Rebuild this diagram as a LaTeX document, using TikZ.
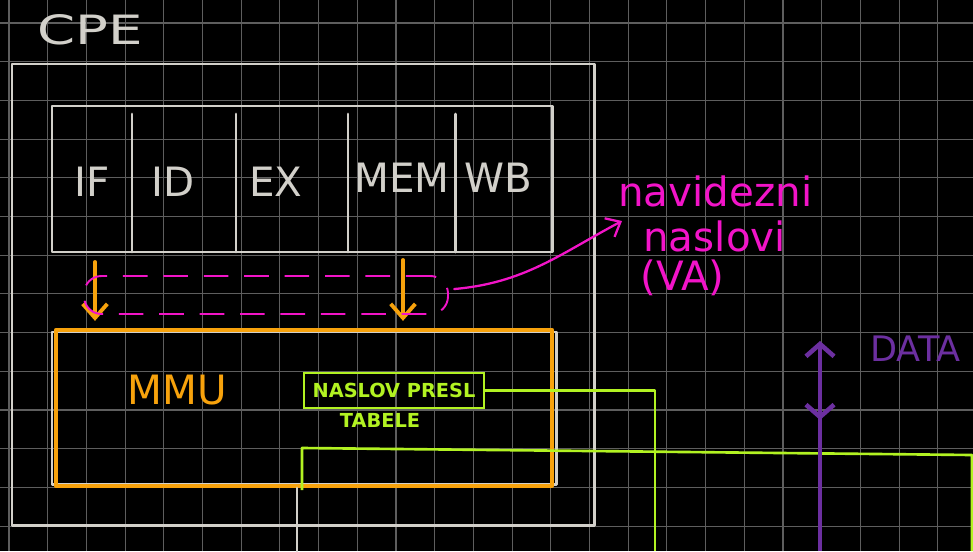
\documentclass[tikz,border=0pt]{standalone}
\usepackage{fontspec}
\setmainfont{DejaVu Sans}
\usetikzlibrary{arrows.meta, positioning, fit}
\definecolor{chalkgray}{HTML}{D2D0CA}
\definecolor{gridgray}{HTML}{5E5E5E}
\definecolor{mmuorange}{HTML}{F7A20C}
\definecolor{vamagenta}{HTML}{F214C8}
\definecolor{tablelime}{HTML}{B2F222}
\definecolor{datapurple}{HTML}{6C2FA0}

\begin{document}
\begin{tikzpicture}[
		x=0.02cm, y=-0.02cm,
		gridline/.style={draw=gridgray, line width=0.6pt},
		chalkbox/.style={draw=chalkgray, line width=1.7pt, inner sep=0pt, line join=round},
		chalk/.style={draw=chalkgray, line width=1.7pt, line cap=round},
		hand/.style={font=\fontsize{23}{27}\selectfont, inner sep=0pt},
		mmubox/.style={draw=mmuorange, line width=2.4pt, inner sep=0pt, line join=round},
		mmuarrow/.style={draw=mmuorange, line width=2.2pt, line cap=round, -{Straight Barb[length=8pt, width=14pt]}},
		valoop/.style={draw=vamagenta, line width=1.1pt, dash pattern=on 14pt off 9pt, rounded corners=10pt, inner sep=0pt},
		vaarrow/.style={draw=vamagenta, line width=1.3pt, line cap=round, -{Straight Barb[length=7pt, width=12pt]}},
		tablebox/.style={draw=tablelime, line width=1.5pt, inner sep=0pt},
		tableline/.style={draw=tablelime, line width=1.5pt, line join=round},
		tabletext/.style={font=\fontsize{11}{13}\selectfont\bfseries, text=tablelime, inner sep=0pt},
		dataarrow/.style={draw=datapurple, line width=2.6pt, -{Straight Barb[length=7pt, width=16pt]}}
	]
	\useasboundingbox (0,0) rectangle (973,551);
	\clip (0,0) rectangle (973,551);
	\fill[black] (0,0) rectangle (973,551);

	% Grid
	\foreach \i in {0,...,24} {
			\draw[gridline] (9+\i*38.7, 0) -- (9+\i*38.7, 551);
		}
	\foreach \j in {0,...,13} {
			\draw[gridline] (0, 23+\j*38.7) -- (973, 23+\j*38.7);
		}

	% CPE
	\node[hand, text=chalkgray] (cpelabel) at (90,30) {\scalebox{1.35}[1]{CPE}};
	\node[chalkbox, fit={(12,64) (594,525)}] (cpe) {};

	% Pipeline
	\node[chalkbox, fit={(52,106) (552,252)}] (pipe) {};
	\foreach \x in {132, 236, 348, 455} {
			\draw[chalk] (\x,114) -- (\x,252);
		}
	\node[hand, text=chalkgray] (stageif) at (92,182) {IF};
	\node[hand, text=chalkgray] (stageid) at (173,182) {ID};
	\node[hand, text=chalkgray] (stageex) at (276,182) {EX};
	\node[hand, text=chalkgray] (stagemem) at (402,178) {MEM};
	\node[hand, text=chalkgray] (stagewb) at (498,178) {WB};

	% MMU
	\node[chalkbox, fit={(52,332) (556,484)}] (mmuframe) {};
	\node[mmubox, fit={(56,330) (552,486)}] (mmu) {};
	\node[hand, text=mmuorange] (mmulabel) at (177,390) {MMU};

	\coordinate (ifdown) at (95,262);
	\coordinate (memdown) at (403,260);
	\draw[mmuarrow, shorten >=4pt] (ifdown) -- (ifdown |- mmu.north);
	\draw[mmuarrow, shorten >=4pt] (memdown) -- (memdown |- mmu.north);

	% Virtual addresses
	\node[valoop, fit={(84,276) (448,314)}] (va) {};
	\node[hand, text=vamagenta, anchor=base west] (navidezni) at (618,206) {navidezni};
	\node[hand, text=vamagenta, anchor=base west] (naslovi) at (643,251) {naslovi};
	\node[hand, text=vamagenta, anchor=base west] (vaname) at (640,290) {(VA)};
	\coordinate (vatip) at (622,221);
	\draw[vaarrow] ([xshift=3pt, yshift=3.4pt]va.east) to[out=5, in=-152] (vatip);

	% Page table
	\node[tablebox, fit={(304,373) (484,408)}] (ptable) {};
	\node[tabletext] (ptablelabel) at (ptable.center) {NASLOV PRESL};
	\node[tabletext] (tabele) at (380,420) {TABELE};
	\coordinate (ptend) at (655,551);
	\draw[tableline] (ptable.east) -| (ptend);

	\coordinate (busstart) at (302,490);
	\coordinate (busend) at (972,551);
	\draw[tableline] (busstart) -- (302,448) -- (972,455) -- (busend);
	\draw[chalk] (297,488) -- (297,551);

	% Data
	\coordinate (databot) at (820,551);
	\coordinate (datatop) at (820,341);
	\coordinate (datadown) at (820,420);
	\draw[dataarrow] (databot) -- (datatop);
	\draw[dataarrow] ([yshift=12pt]datadown) -- (datadown);
	\node[font=\fontsize{20}{24}\selectfont, text=datapurple, anchor=base west, inner sep=0pt] (datalabel) at (870,361) {DATA};
\end{tikzpicture}
\end{document}
